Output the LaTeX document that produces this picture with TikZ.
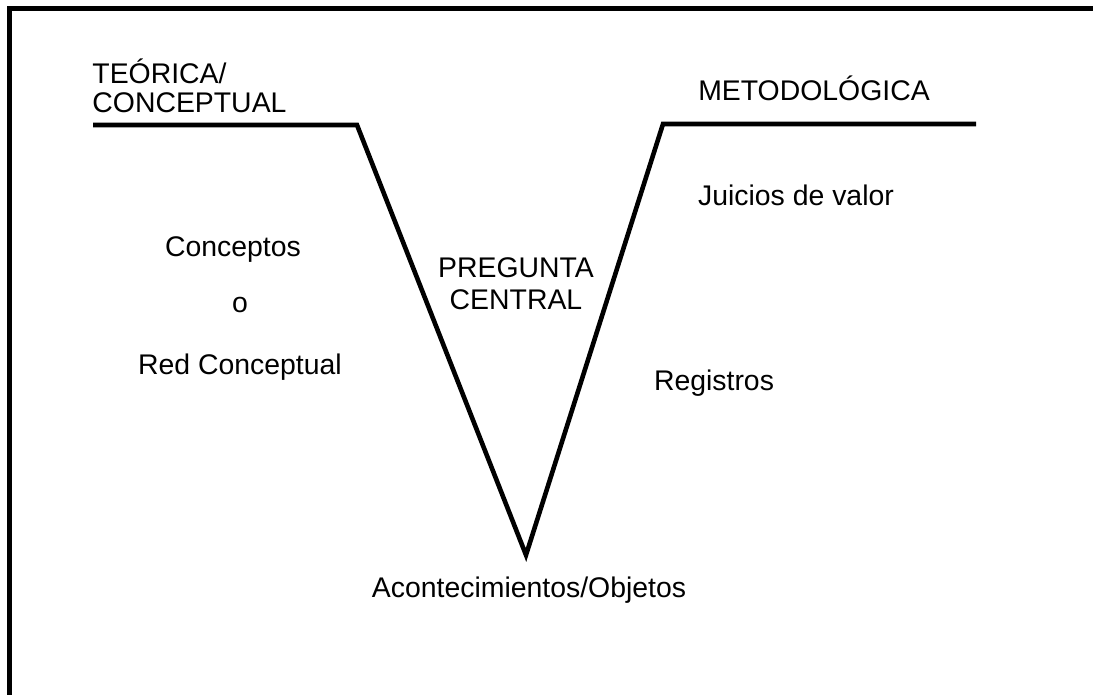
\documentclass[tikz,border=0pt]{standalone}
\usepackage{fontspec}
\setmainfont{Liberation Sans}
\usetikzlibrary{positioning}

\begin{document}
\begin{tikzpicture}[x=0.5pt, y=-0.5pt]
    \tikzstyle{vtxt} = [font=\fontsize{14.2}{14.5}\selectfont, inner sep=0pt, text=black]
    \tikzstyle{vline} = [line width=2.3pt, black]
    \tikzstyle{frame} = [line width=2.6pt, black]

    \useasboundingbox (0,0) rectangle (1093,695);
    \draw [frame] (9.7,700) -- (9.7,8.5) -- (1100,8.5);

    % corners of the V
    \coordinate (lstart) at (93,125);
    \coordinate (lcorner) at (357,125);
    \coordinate (tip) at (526,555);
    \coordinate (rcorner) at (663,124);
    \coordinate (rend) at (976,124);
    \draw [vline] (lstart) -- (lcorner) -- (tip) -- (rcorner) -- (rend);

    \node (teorica) [vtxt, anchor=west, align=left] at (92,86) {TEÓRICA/\\CONCEPTUAL};
    \node (metodo) [vtxt] at (814,88) {METODOLÓGICA};
    \node (juicios) [vtxt] at (796,195) {Juicios de valor};
    \node (conceptos) [vtxt] at (233,250) {Conceptos};
    \node (o) [vtxt] at (240,305) {o};
    \node (red) [vtxt] at (240,367) {Red Conceptual};
    \node (pregunta) [vtxt, align=center] at (516,284) {PREGUNTA\\[1.5pt]CENTRAL};
    \node (registros) [vtxt] at (714,383) {Registros};
    \node (aconte) [vtxt] at (529,590) {Acontecimientos/Objetos};
\end{tikzpicture}
\end{document}
